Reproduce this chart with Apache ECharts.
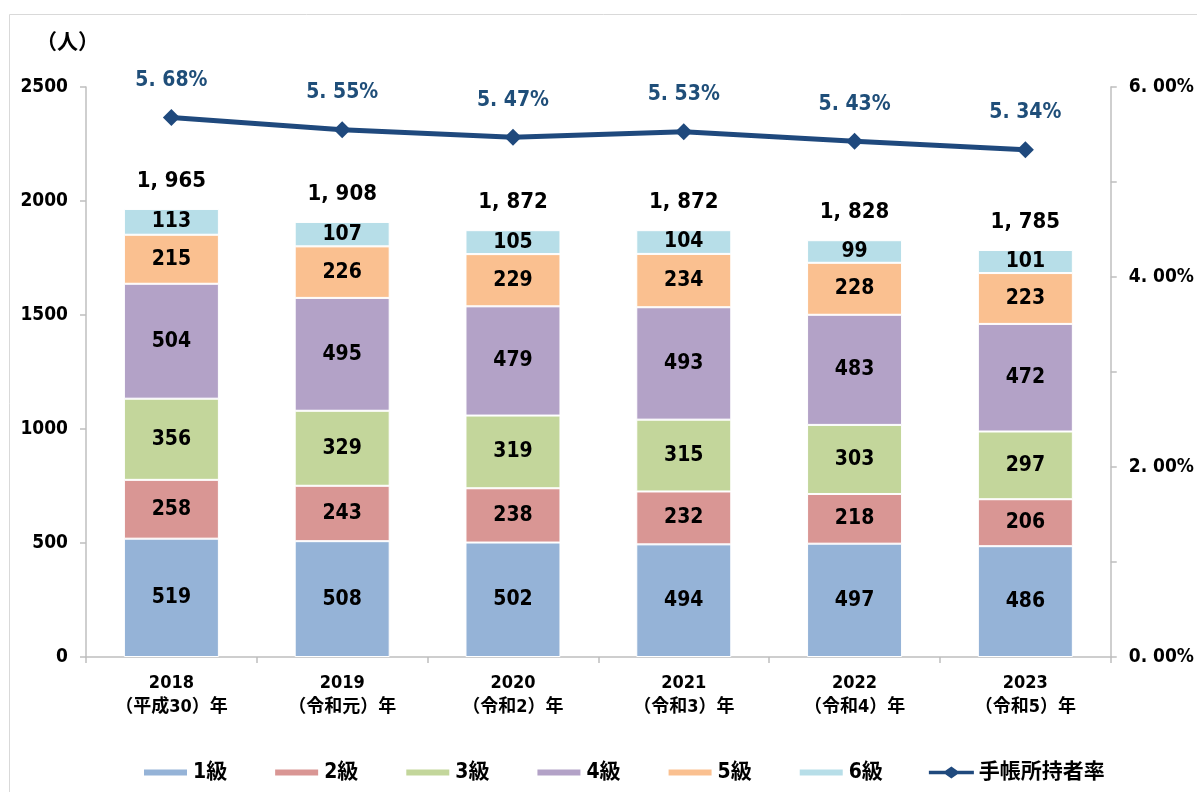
<!DOCTYPE html>
<html><head><meta charset="utf-8">
<script src="https://cdn.jsdelivr.net/npm/echarts@6/dist/echarts.min.js"></script>
<style>html,body{margin:0;padding:0;background:#fff}#c{width:1197px;height:792px}</style>
</head><body><div id="c"></div>
<script>
const categories = ['2018\n（平成30）年','2019\n（令和元）年','2020\n（令和2）年','2021\n（令和3）年','2022\n（令和4）年','2023\n（令和5）年'];
const grade1 = [519,508,502,494,497,486];
const grade2 = [258,243,238,232,218,206];
const grade3 = [356,329,319,315,303,297];
const grade4 = [504,495,479,493,483,472];
const grade5 = [215,226,229,234,228,223];
const grade6 = [113,107,105,104,99,101];
const totals = [1965,1908,1872,1872,1828,1785];
const rate = [5.68,5.55,5.47,5.53,5.43,5.34];
const seriesNames = ['1級','2級','3級','4級','5級','6級'];
const colors = ['#95B3D7','#D99694','#C3D69B','#B3A2C7','#FAC090','#B7DEE8'];

const FONT = '"DejaVu Sans Condensed","Noto Sans CJK JP",sans-serif';
const chart = echarts.init(document.getElementById('c'));
const gradeData = [grade1,grade2,grade3,grade4,grade5,grade6];
const barSeries = gradeData.map((d,i)=>({
  name: seriesNames[i], type:'bar', stack:'a', data:d, barWidth:95,
  itemStyle:{color:colors[i], borderColor:'#fff', borderWidth:1},
  label:{show:true, position:'inside', color:'#000', fontSize:21, fontWeight:'bold', fontFamily:FONT},
  emphasis:{disabled:true}
}));
const fmtTotal = v => { const s=String(v); return s.slice(0,s.length-3)+', '+s.slice(-3); };
const fmtPct = v => v.toFixed(2).replace('.', '. ')+'%';
const rectIcon = 'path://M0,0L0,0M0,3L45,3L45,11L0,11ZM45,14L45,14';
const lineIcon = 'path://M0,0L0,0M0,5L19,5L26,0L33,5L52,5L52,9L33,9L26,14L19,9L0,9ZM52,14L52,14';
chart.setOption({
  animation:false,
  textStyle:{fontFamily:FONT},
  grid:{left:86, right:80, top:87, bottom:135},
  graphic:[
    {type:'rect', shape:{x:9.5,y:14.5,width:1300,height:900}, style:{fill:'none', stroke:'#d9d9d9', lineWidth:1}},
    {type:'text', left:36, top:33, style:{text:'（人）', fontSize:21, fontWeight:'bold', fill:'#000', fontFamily:FONT}}
  ],
  legend:{
    left:137, top:757, itemWidth:45, itemHeight:14, itemGap:46,
    textStyle:{fontSize:21, fontWeight:'bold', color:'#000', fontFamily:FONT},
    data:[...seriesNames.map(n=>({name:n, icon:rectIcon})),
          {name:'手帳所持者率', icon:lineIcon, itemStyle:{color:'#1F497D', borderWidth:0}}]
  },
  xAxis:{
    type:'category', data:categories,
    axisLine:{lineStyle:{color:'#bfbfbf', width:1.5}},
    axisTick:{show:true, alignWithLabel:false, length:6, lineStyle:{color:'#bfbfbf', width:1.5}},
    axisLabel:{color:'#000', fontSize:18, fontWeight:'bold', lineHeight:24, margin:14, fontFamily:FONT}
  },
  yAxis:[
    {type:'value', min:0, max:2500, interval:500,
     axisLine:{show:true, lineStyle:{color:'#bfbfbf', width:1.5}},
     axisTick:{show:true, length:6, lineStyle:{color:'#bfbfbf', width:1.5}},
     splitLine:{show:false},
     axisLabel:{color:'#000', fontSize:19, fontWeight:'bold', margin:18, fontFamily:FONT, formatter:v=>String(v)}},
    {type:'value', min:0, max:6, interval:1,
     axisLine:{show:true, lineStyle:{color:'#bfbfbf', width:1.5}},
     axisTick:{show:true, length:6, lineStyle:{color:'#bfbfbf', width:1.5}},
     splitLine:{show:false},
     axisLabel:{color:'#000', fontSize:19, fontWeight:'bold', margin:18, fontFamily:FONT,
       formatter: v => (Math.round(v)%2===0 ? fmtPct(v) : '')}}
  ],
  series:[
    ...barSeries,
    {name:'合計', type:'scatter', data:totals, symbolSize:1, silent:true,
     itemStyle:{color:'rgba(0,0,0,0)', opacity:1},
     label:{show:true, position:'top', distance:16, color:'#000', fontSize:22, fontWeight:'bold', fontFamily:FONT,
       textBorderWidth:0, formatter:p=>fmtTotal(p.value)}},
    {name:'手帳所持者率', type:'line', yAxisIndex:1, data:rate,
     symbol:'diamond', symbolSize:17, lineStyle:{color:'#1F497D', width:5},
     itemStyle:{color:'#1F497D'},
     label:{show:true, position:'top', distance:18, color:'#1F4E79', fontSize:21, fontWeight:'bold', fontFamily:FONT,
       formatter:p=>fmtPct(p.value)}}
  ]
});
</script></body></html>
